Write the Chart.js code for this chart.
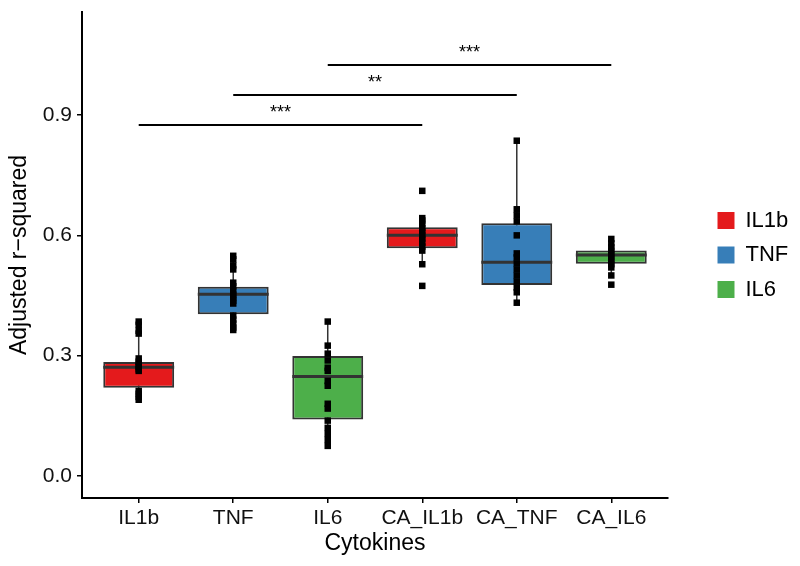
<!DOCTYPE html>
<html>
<head>
<meta charset="utf-8">
<script src="https://cdn.jsdelivr.net/npm/chart.js@4"></script>
<style>
html,body{margin:0;padding:0;background:#fff;}
#wrap{width:800px;height:566px;}
</style>
</head>
<body>
<div id="wrap"><canvas id="chart" width="800" height="566"></canvas></div>
<script>
const categories = ["IL1b","TNF","IL6","CA_IL1b","CA_TNF","CA_IL6"];
const groupNames = ["IL1b","TNF","IL6"];
const groupColors = ["#E41A1C","#377EB8","#4DAF4A"];
const groupOf = [0,1,2,0,1,2];

// box stats
const q1 = [0.220,0.403,0.141,0.568,0.476,0.529];
const median = [0.271,0.453,0.248,0.600,0.533,0.551];
const q3 = [0.284,0.472,0.299,0.620,0.630,0.562];
const whiskerLow = [0.190,0.364,0.073,0.526,0.432,0.500];
const whiskerHigh = [0.385,0.549,0.385,0.643,0.836,0.591];

// individual observations
const ptsIL1b = [0.385,0.377,0.362,0.355,0.293,0.285,0.278,0.272,0.266,0.262,0.212,0.205,0.197,0.190];
const ptsTNF = [0.549,0.540,0.525,0.515,0.482,0.473,0.462,0.452,0.445,0.437,0.430,0.400,0.390,0.380,0.370,0.364];
const ptsIL6 = [0.385,0.325,0.305,0.288,0.270,0.262,0.237,0.225,0.180,0.168,0.138,0.120,0.105,0.090,0.075];
const ptsCA_IL1b = [0.711,0.643,0.637,0.628,0.618,0.610,0.600,0.592,0.582,0.572,0.562,0.528,0.474];
const ptsCA_TNF = [0.836,0.665,0.650,0.635,0.600,0.555,0.545,0.530,0.515,0.500,0.485,0.470,0.458,0.432];
const ptsCA_IL6 = [0.591,0.580,0.570,0.562,0.553,0.545,0.537,0.528,0.520,0.500,0.477];
const points = [ptsIL1b,ptsTNF,ptsIL6,ptsCA_IL1b,ptsCA_TNF,ptsCA_IL6];

const yTicks = [0,0.3,0.6,0.9];

// significance brackets
const sigFrom = [1,2,3];
const sigTo = [4,5,6];
const sigY = [0.875,0.950,1.025];
const sigLabel = ["***","**","***"];

const boxHalf = 0.375;
Chart.defaults.font.family = "'Liberation Sans', Arial, sans-serif";
Chart.defaults.color = "#000";

const datasets = [];

// whiskers
const whiskerData = [];
categories.forEach((c,i)=>{
  whiskerData.push({x:i+1,y:whiskerLow[i]},{x:i+1,y:whiskerHigh[i]},{x:i+1,y:null});
});
datasets.push({type:"line",data:whiskerData,borderColor:"#333333",borderWidth:1.5,pointRadius:0,order:5,spanGaps:false});

// brackets
const sigData = [];
sigFrom.forEach((f,k)=>{
  sigData.push({x:f,y:sigY[k]},{x:sigTo[k],y:sigY[k]},{x:sigTo[k],y:null});
});
datasets.push({type:"line",data:sigData,borderColor:"#000",borderWidth:2,pointRadius:0,order:5,spanGaps:false});

// boxes, one dataset per colour group
groupNames.forEach((g,gi)=>{
  const d = [];
  categories.forEach((c,i)=>{ if(groupOf[i]===gi) d.push({x:i+1,y:[q1[i],q3[i]]}); });
  datasets.push({type:"bar",label:g,data:d,backgroundColor:groupColors[gi],borderColor:"#333333",
    borderWidth:2,borderSkipped:false,grouped:false,categoryPercentage:1,barPercentage:0.75,order:3,isGroup:true});
});

// medians
const medData = [];
categories.forEach((c,i)=>{
  medData.push({x:i+1-boxHalf,y:median[i]},{x:i+1+boxHalf,y:median[i]},{x:i+1,y:null});
});
datasets.push({type:"line",data:medData,borderColor:"#333333",borderWidth:3,pointRadius:0,order:2,spanGaps:false});

// points
const ptData = [];
points.forEach((arr,i)=>arr.forEach(v=>ptData.push({x:i+1,y:v})));
datasets.push({type:"scatter",data:ptData,pointStyle:"rect",pointRadius:4.6,backgroundColor:"#000",borderWidth:0,order:1});

const sigText = {
  id:"sigText",
  afterDatasetsDraw(chart){
    const ctx = chart.ctx, xs = chart.scales.x, ys = chart.scales.y;
    ctx.save();
    ctx.fillStyle = "#000";
    ctx.font = "18px 'Liberation Sans', Arial, sans-serif";
    ctx.textAlign = "center";
    ctx.textBaseline = "alphabetic";
    sigFrom.forEach((f,k)=>{
      const px = xs.getPixelForValue((f+sigTo[k])/2);
      const py = ys.getPixelForValue(sigY[k]);
      ctx.fillText(sigLabel[k],px,py-7);
    });
    ctx.restore();
  }
};

const legendPlace = {
  id:"legendPlace",
  beforeLayout(chart){
    const lg = chart.legend;
    if(lg && !lg._patched){
      const fit = lg.fit;
      lg.fit = function(){ fit.call(this); this.width = 132; };
      lg._patched = true;
    }
  },
  afterLayout(chart){
    const lg = chart.legend;
    const w = lg.right - lg.left;
    lg.left = 705;
    lg.right = lg.left + w;
  }
};

new Chart(document.getElementById("chart"),{
  type:"bar",
  data:{datasets:datasets},
  options:{
    responsive:false,
    animation:false,
    events:[],
    layout:{padding:{top:12,right:0,bottom:0,left:0}},
    plugins:{
      tooltip:{enabled:false},
      legend:{
        position:"right",
        fullSize:false,
        labels:{
          boxWidth:17,boxHeight:17,padding:12.5,
          font:{size:22},color:"#000",
          generateLabels:(chart)=>chart.data.datasets.map((ds,i)=>({
            text:ds.label,fillStyle:ds.backgroundColor,strokeStyle:ds.backgroundColor,lineWidth:0,
            datasetIndex:i,hidden:false
          })).filter(it=>chart.data.datasets[it.datasetIndex].isGroup)
        }
      }
    },
    scales:{
      x:{
        type:"linear",min:0.4,max:6.6,offset:false,
        grid:{display:true,drawOnChartArea:false,drawTicks:true,tickLength:5,color:"#000",lineWidth:1.5,offset:false},
        border:{display:true,color:"#000",width:2},
        afterBuildTicks:(s)=>{ s.ticks = categories.map((c,i)=>({value:i+1})); },
        ticks:{autoSkip:false,maxRotation:0,padding:3,font:{size:21},color:"#111",
          callback:(v)=>categories[Math.round(v)-1]},
        title:{display:true,text:"Cytokines",font:{size:23},color:"#000",padding:{top:0,bottom:9}},
        afterFit:(s)=>{ s.height = 68; }
      },
      y:{
        type:"linear",min:-0.055,max:1.157,
        grid:{display:true,drawOnChartArea:false,drawTicks:true,tickLength:5,color:"#000",lineWidth:1.5},
        border:{display:true,color:"#000",width:2},
        afterBuildTicks:(s)=>{ s.ticks = yTicks.map(v=>({value:v})); },
        ticks:{padding:5,font:{size:21},color:"#111",callback:(v)=>v.toFixed(1)},
        title:{display:true,text:"Adjusted r\u2212squared",font:{size:23},color:"#000",padding:{top:6,bottom:0}},
        afterFit:(s)=>{ s.width = 82; s.paddingTop = 0; s.paddingBottom = 0; }
      }
    }
  },
  plugins:[sigText,legendPlace]
});
</script>
</body>
</html>
